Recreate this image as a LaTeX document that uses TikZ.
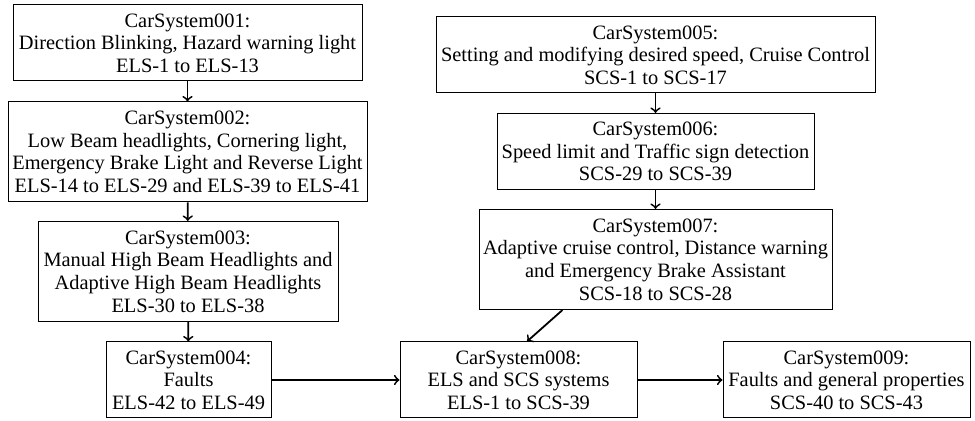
\documentclass[tikz,border=0pt]{standalone}
\usepackage{fontspec}
\setmainfont{Liberation Serif}
\usetikzlibrary{calc}
\begin{document}
\begin{tikzpicture}[x=0.5pt,y=-0.5pt,
  sysbox/.style={draw, line width=0.5pt, align=center, inner sep=0pt,
    font=\fontsize{10.2}{11.3}\selectfont, minimum height=38pt},
  tallbox/.style={sysbox, minimum height=50pt},
  flow/.style={->, line width=0.9pt}]
\useasboundingbox (0,0) rectangle (975,421);

% exterior lighting chain
\node[sysbox, minimum width=174.5pt] (s1) at (187.5,43)
  {CarSystem001:\\Direction Blinking, Hazard warning light\\ELS-1 to ELS-13};
\node[tallbox, minimum width=179.5pt] (s2) at (187.5,152)
  {CarSystem002:\\Low Beam headlights, Cornering light,\\Emergency Brake Light and Reverse Light\\ELS-14 to ELS-29 and ELS-39 to ELS-41};
\node[tallbox, minimum width=150pt] (s3) at (188,271.5)
  {CarSystem003:\\Manual High Beam Headlights and\\Adaptive High Beam Headlights\\ELS-30 to ELS-38};
\node[sysbox, minimum width=82.5pt] (s4) at (188.5,380)
  {CarSystem004:\\Faults\\ELS-42 to ELS-49};

% speed control chain
\node[sysbox, minimum width=219.5pt] (s5) at (655.5,55)
  {CarSystem005:\\Setting and modifying desired speed, Cruise Control\\SCS-1 to SCS-17};
\node[sysbox, minimum width=158.5pt] (s6) at (655.5,151.5)
  {CarSystem006:\\Speed limit and Traffic sign detection\\SCS-29 to SCS-39};
\node[tallbox, minimum width=176.5pt] (s7) at (655.5,259.5)
  {CarSystem007:\\Adaptive cruise control, Distance warning\\and Emergency Brake Assistant\\SCS-18 to SCS-28};

% combined systems
\node[sysbox, minimum width=118.5pt] (s8) at (518.5,380)
  {CarSystem008:\\ELS and SCS systems\\ELS-1 to SCS-39};
\node[sysbox, minimum width=123.5pt] (s9) at (846.5,380)
  {CarSystem009:\\Faults and general properties\\SCS-40 to SCS-43};

\draw[flow] (s1) -- (s2);
\draw[flow] (s2) -- (s3);
\draw[flow] (s3) -- (s4);
\draw[flow] (s5) -- (s6);
\draw[flow] (s6) -- (s7);
\draw[flow] ($(s7.south west)+(84,0)$) -- ($(s8.north)+(8.5,0)$);
\draw[flow] (s4) -- (s8);
\draw[flow] (s8) -- (s9);
\end{tikzpicture}
\end{document}
